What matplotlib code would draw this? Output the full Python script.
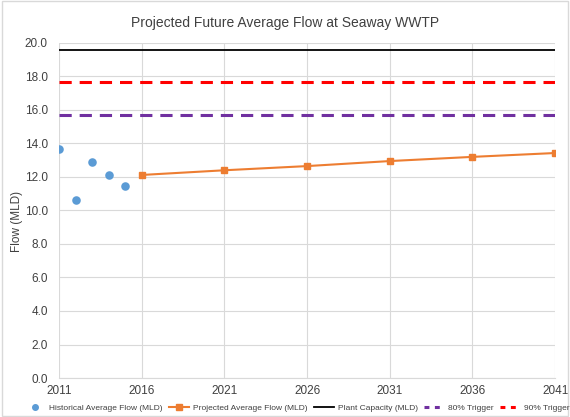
import matplotlib
matplotlib.use("Agg")
import matplotlib.pyplot as plt
from matplotlib.lines import Line2D
from matplotlib.patches import Rectangle

# historical and projected average flow (MLD)
hist_years = [2011, 2012, 2013, 2014, 2015]
hist_flow = [13.67, 10.63, 12.9, 12.12, 11.46]
proj_years = [2016, 2021, 2026, 2031, 2036, 2041]
proj_flow = [12.12, 12.4, 12.65, 12.95, 13.2, 13.43]
capacity = 19.6
trigger_80 = 15.68
trigger_90 = 17.64

x_ticks = [2011, 2016, 2021, 2026, 2031, 2036, 2041]
y_ticks = [0, 2, 4, 6, 8, 10, 12, 14, 16, 18, 20]

blue = "#5b9bd5"
orange = "#ed7d31"
purple = "#7030a0"
red = "#ff0000"

plt.rcParams["font.family"] = ["Liberation Sans", "DejaVu Sans"]

fig = plt.figure(figsize=(5.7, 4.17), dpi=100)
ax = fig.add_axes([0.1035, 0.0935, 0.8705, 0.8035])

ax.scatter(hist_years, hist_flow, s=38, color=blue, zorder=3, linewidths=0)
ax.plot(proj_years, proj_flow, color=orange, lw=1.5, marker="s", ms=5, zorder=3)
ax.axhline(capacity, color="black", lw=1.3)
ax.axhline(trigger_80, color=purple, lw=2.2, ls=(0, (4, 2.6)))
ax.axhline(trigger_90, color=red, lw=2.2, ls=(0, (4, 2.6)))

ax.set_xlim(2011, 2041)
ax.set_ylim(0, 20)
ax.set_xticks(x_ticks)
ax.set_yticks(y_ticks)
ax.set_yticklabels([f"{v:.1f}" for v in y_ticks])
ax.grid(True, color="#d9d9d9", lw=0.8)
ax.set_axisbelow(True)
for s in ax.spines.values():
    s.set_visible(False)
ax.spines["bottom"].set_visible(True)
ax.spines["bottom"].set_color("#d9d9d9")
ax.tick_params(length=0, labelsize=8.5, colors="#404040")
ax.tick_params(axis="x", pad=5)
ax.tick_params(axis="y", pad=8)

fig.text(0.5, 0.945, "Projected Future Average Flow at Seaway WWTP",
         ha="center", va="center", fontsize=10, color="#404040")
fig.text(0.03, 0.47, "Flow (MLD)", rotation=90, ha="center", va="center",
         fontsize=8.5, color="#404040")

handles = [
    Line2D([], [], ls="", marker="o", ms=4, color=blue),
    Line2D([], [], color=orange, lw=1.5, marker="s", ms=4.5),
    Line2D([], [], color="black", lw=1.3),
    Line2D([], [], color=purple, lw=2.2, ls=(0, (1.6, 1.8))),
    Line2D([], [], color=red, lw=2.2, ls=(0, (1.6, 1.8))),
]
labels = ["Historical Average Flow (MLD)", "Projected Average Flow (MLD)",
          "Plant Capacity (MLD)", "80% Trigger", "90% Trigger"]
fig.legend(handles, labels, loc="center", bbox_to_anchor=(0.522, 0.022), ncol=5,
           frameon=False, fontsize=6, handlelength=2.4, columnspacing=0.75,
           handletextpad=0.5, labelcolor="#404040")

fig.patches.append(Rectangle((0.003, 0.003), 0.994, 0.994, transform=fig.transFigure,
                             fill=False, edgecolor="#d9d9d9", lw=1))

fig.savefig("out.png", dpi=100)
